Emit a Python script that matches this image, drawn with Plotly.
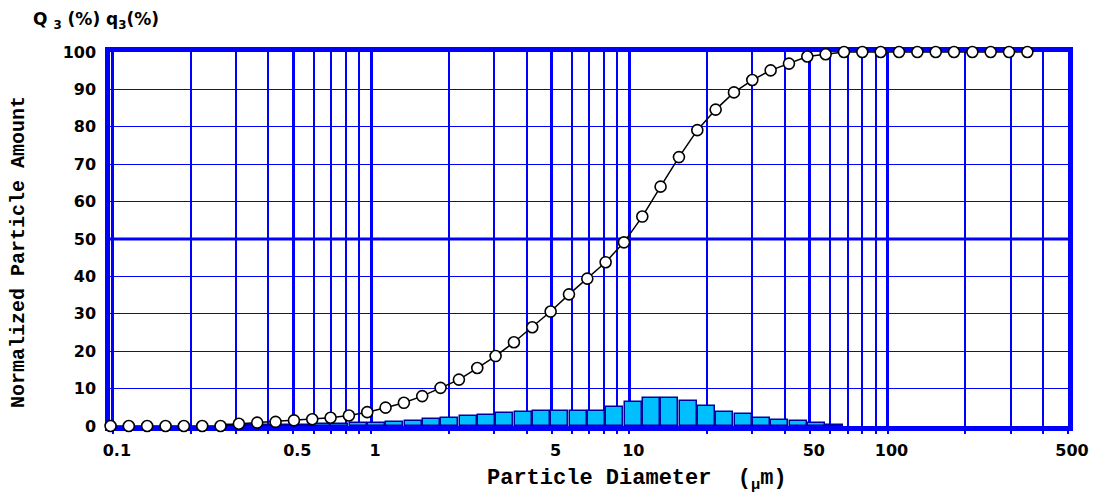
import math
import plotly.graph_objects as go

# ---- data ----
diameter_um = [0.098, 0.1153, 0.1358, 0.16, 0.1884, 0.2219, 0.2613, 0.3077, 0.3623, 0.4268,
               0.5027, 0.5919, 0.697, 0.8207, 0.9665, 1.138, 1.34, 1.578, 1.858, 2.189,
               2.578, 3.036, 3.575, 4.21, 4.959, 5.84, 6.877, 8.098, 9.535, 11.23,
               13.22, 15.57, 18.34, 21.6, 25.43, 29.95, 35.27, 41.53, 48.91, 57.6,
               67.83, 79.87, 94.08, 110.8, 130.5, 153.7, 180.9, 213.1, 250.9, 295.5, 348.0]

cumulative_Q3 = [0.0, 0.0, 0.0, 0.0, 0.0, 0.0, 0.0, 0.6, 0.9, 1.1,
                 1.5, 1.8, 2.2, 2.8, 3.7, 4.9, 6.2, 8.0, 10.2, 12.4,
                 15.5, 18.7, 22.4, 26.4, 30.6, 35.2, 39.4, 43.8, 49.1, 56.0,
                 64.0, 71.9, 79.1, 84.6, 89.2, 92.5, 95.1, 96.9, 98.8, 99.4,
                 100, 100, 100, 100, 100, 100, 100, 100, 100, 100, 100]

frequency_q3 = [0.0, 0.0, 0.0, 0.0, 0.0, 0.0, 0.3, 0.3, 0.3, 0.4,
                0.4, 0.5, 0.6, 0.8, 0.9, 1.15, 1.4, 1.8, 2.05, 2.75,
                2.9, 3.4, 3.7, 4.1, 4.0, 4.0, 4.1, 5.0, 6.5, 7.6,
                7.6, 6.7, 5.3, 3.8, 3.1, 2.2, 1.7, 1.25, 0.7, 0.3,
                0.0, 0.0, 0.0, 0.0, 0.0, 0.0, 0.0, 0.0, 0.0, 0.0]

x_major = [0.1, 0.5, 1, 5, 10, 50, 100, 500]
x_major_text = ["0.1", "0.5", "1", "5", "10", "50", "100", "500"]
x_minor = [0.2, 0.3, 0.4, 0.6, 0.7, 0.8, 0.9, 2, 3, 4, 6, 7, 8, 9,
           20, 30, 40, 60, 70, 80, 90, 200, 300, 400]
y_ticks = [0, 10, 20, 30, 40, 50, 60, 70, 80, 90, 100]

# ---- styles ----
BLUE = "#0000FF"
TICK_FONT = dict(family="DejaVu Sans", size=16, color="black", weight="bold")
MONO_FONT = dict(family="Liberation Mono", size=20, color="black", weight="bold")

left_edges = diameter_um[:-1]
right_edges = diameter_um[1:]
bar_widths = [(r - l) * 0.92 for l, r in zip(left_edges, right_edges)]
bar_offsets = [(r - l) * 0.04 for l, r in zip(left_edges, right_edges)]
bar_line_widths = [1.5 if v > 0 else 0 for v in frequency_q3]

fig = go.Figure()
fig.add_trace(go.Bar(
    x=left_edges, y=frequency_q3, width=bar_widths, offset=bar_offsets,
    marker=dict(color="#00BFFF", line=dict(color="#0000A0", width=bar_line_widths)),
    showlegend=False,
))
fig.add_trace(go.Scatter(
    x=diameter_um, y=cumulative_Q3, mode="lines+markers",
    line=dict(color="black", width=1.5),
    marker=dict(symbol="circle", size=11, color="white", line=dict(color="black", width=1.6)),
    cliponaxis=False, showlegend=False,
))

fig.add_shape(type="line", xref="paper", x0=0, x1=1, yref="y", y0=50, y1=50,
              line=dict(color=BLUE, width=3), layer="below")

fig.update_layout(
    width=1101, height=495,
    margin=dict(l=110, r=31, t=52, b=69),
    paper_bgcolor="white", plot_bgcolor="white",
    bargap=0,
    xaxis=dict(
        type="log", range=[math.log10(0.0975), math.log10(500)],
        tickmode="array", tickvals=x_major, ticktext=x_major_text,
        showgrid=True, gridcolor=BLUE, gridwidth=2.5,
        ticks="outside", ticklen=3, tickwidth=2, tickcolor=BLUE,
        minor=dict(tickvals=x_minor, showgrid=True, gridcolor=BLUE, gridwidth=1.5,
                   ticks="outside", ticklen=3, tickwidth=1.5, tickcolor=BLUE),
        showline=True, linecolor=BLUE, linewidth=4.5, mirror=True,
        layer="below traces", zeroline=False,
        tickfont=TICK_FONT, ticklabelshift=4, ticklabelstandoff=3,
    ),
    yaxis=dict(
        range=[0, 100], tickmode="array", tickvals=y_ticks,
        showgrid=True, gridcolor=BLUE, gridwidth=1.3,
        ticks="", showline=True, linecolor=BLUE, linewidth=4.5, mirror=True,
        layer="below traces", zeroline=False,
        tickfont=TICK_FONT, ticklabelstandoff=6,
    ),
    annotations=[
        dict(text="Normalized Particle Amount", textangle=-90, showarrow=False,
             xref="paper", yref="paper", x=-0.096, y=0.465, xanchor="center", yanchor="middle",
             font=MONO_FONT),
        dict(text="Particle Diameter\u00a0\u00a0(<sub>\u03bc</sub>m)", showarrow=False,
             xref="paper", yref="paper", x=0.55, y=-0.145, xanchor="center", yanchor="middle",
             font=dict(family="Liberation Mono", size=22, color="black", weight="bold")),
        dict(text="Q\u00a0<sub>3</sub>\u00a0(%)\u00a0q<sub>3</sub>(%)", showarrow=False,
             xref="paper", yref="paper", x=-0.082, y=1.085, xanchor="left", yanchor="middle",
             font=dict(family="DejaVu Sans", size=17, color="black", weight="bold")),
    ],
)

fig.write_html("out.html")
